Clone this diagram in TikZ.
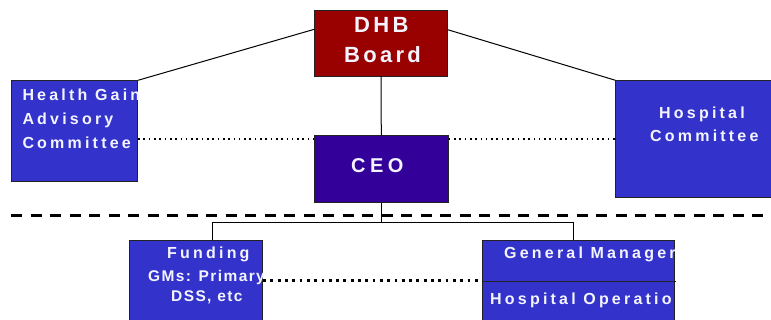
\documentclass[tikz,border=0pt]{standalone}
\usepackage{fontspec}
\setmainfont{Liberation Sans}
\newfontfamily\fTw[LetterSpace=20]{Liberation Sans}
\newfontfamily\fDh[LetterSpace=15]{Liberation Sans}
\newfontfamily\fCe[LetterSpace=22]{Liberation Sans}
\newfontfamily\fGm[LetterSpace=9]{Liberation Sans}
\definecolor{dhbred}{HTML}{990000}
\definecolor{ceopur}{HTML}{330099}
\definecolor{boxblue}{HTML}{3333CC}
\definecolor{edge}{HTML}{222222}
\definecolor{txtc}{HTML}{F4F4FF}
\tikzset{
  box/.style={draw=edge, line width=0.9pt, inner sep=0pt, rectangle},
  txt/.style={text=txtc, inner sep=0pt, anchor=base west},
  conn/.style={draw=black, line width=1pt},
  dotA/.style={draw=black, line width=1.8pt, dash pattern=on 1.6pt off 3.7pt},
  dotB/.style={draw=black, line width=3pt, dash pattern=on 2.8pt off 4.5pt},
  dashL/.style={draw=black, line width=2.4pt, dash pattern=on 11pt off 8.5pt},
  fsixteen/.style={font=\fTw\bfseries\fontsize{16}{19}\selectfont},
  fdhb/.style={font=\fDh\bfseries\fontsize{22}{26}\selectfont},
  fceo/.style={font=\fCe\bfseries\fontsize{20}{24}\selectfont},
  fgms/.style={font=\fGm\bfseries\fontsize{15.5}{18}\selectfont},
}
\begin{document}
\begin{tikzpicture}[x=1pt,y=-1pt]
\useasboundingbox (0,0) rectangle (771,320);
\clip (0,0) rectangle (771,320);
% boxes
\node[box, fill=dhbred, minimum width=133.4pt, minimum height=66pt] (dhb) at (381,43) {};
\node[box, fill=ceopur, minimum width=134pt, minimum height=66.6pt] (ceo) at (381.3,169) {};
\node[box, fill=boxblue, minimum width=126pt, minimum height=100.3pt] (hg) at (74.7,130.85) {};
\node[box, fill=boxblue, minimum width=184.3pt, minimum height=116.3pt] (hc) at (707.85,138.85) {};
\node[box, fill=boxblue, minimum width=133.4pt, minimum height=99.7pt] (fund) at (196,290.15) {};
\node[box, fill=boxblue, minimum width=192.7pt, minimum height=99.7pt] (gm) at (578.35,290.15) {};
% helper coordinates
\coordinate (dhbL) at (314.3,29.3);
\coordinate (dhbR) at (447.7,29.7);
\coordinate (dy) at (0,139);
\coordinate (dashS) at (11,215.7);
\coordinate (dashE) at (771,215.7);
\coordinate (jy) at (0,222.7);
\coordinate (fj) at (212.7,240.3);
\coordinate (gj) at (573.7,240.3);
\coordinate (ly) at (0,281);
\coordinate (divE) at (676,281.7);
% connectors
\draw[conn] (dhb.south) -- (ceo.north);
\draw[conn] (dhbL) -- (hg.north east);
\draw[conn] (dhbR) -- (hc.north west);
\draw[dotA] (hg.east |- dy) -- (ceo.west |- dy);
\draw[dotA] (ceo.east |- dy) -- (hc.west |- dy);
\draw[dashL] (dashS) -- (dashE);
\draw[conn] (ceo.south) -- (ceo.south |- jy);
\draw[conn] (fj) |- (jy -| gj) -- (gj);
\draw[dotB] (fund.east |- ly) -- (gm.west |- ly);
\draw[draw=edge, line width=1pt] (gm.west |- divE) -- (divE);
% texts
\node[txt, fdhb] (t1) at (354,32.3) {DHB};
\node[txt, fdhb] (t2) at (344,62.3) {Board};
\node[txt, fceo] (t3) at (351,172.7) {CEO};
\begin{scope}
\clip (hg.north west) rectangle (hg.south east);
\node[txt, fsixteen] (t4) at (22.3,100.7) {Health Gain};
\node[txt, fsixteen] (t5) at (22.3,125) {Advisory};
\node[txt, fsixteen] (t6) at (22.3,149) {Committee};
\end{scope}
\node[txt, fsixteen] (t7) at (659,118.3) {Hospital};
\node[txt, fsixteen] (t8) at (650,141.7) {Committee};
\node[txt, fsixteen] (t9) at (167,258.3) {Funding};
\node[txt, fgms] (t10) at (148,281.7) {GMs: Primary};
\node[txt, fgms] (t11) at (171,301.7) {DSS, etc};
\begin{scope}
\clip (gm.north west) rectangle (gm.south east);
\node[txt, fsixteen] (t12) at (504,258.3) {General Manager};
\node[txt, fsixteen] (t13) at (490,305) {Hospital Operation};
\end{scope}
\end{tikzpicture}
\end{document}
